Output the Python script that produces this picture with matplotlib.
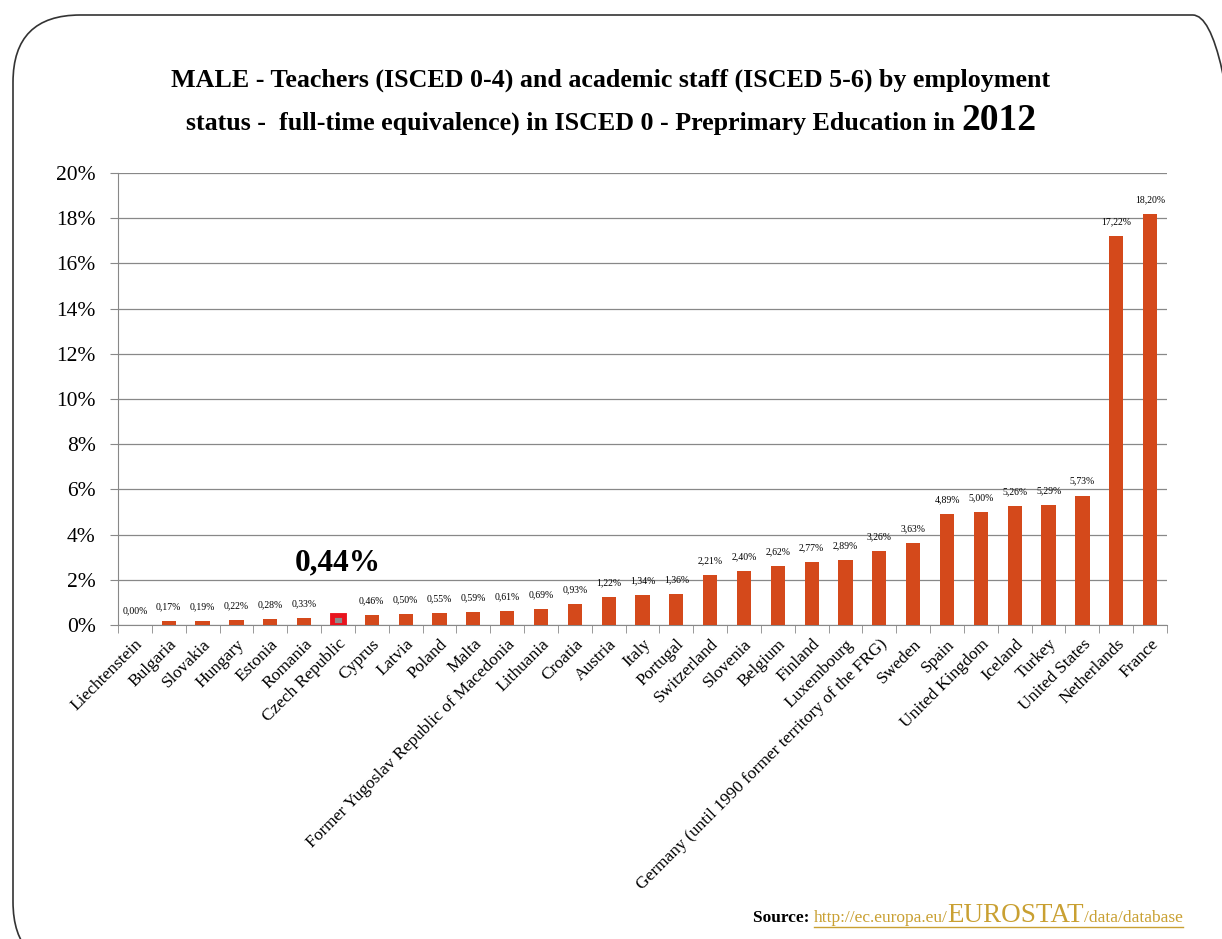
import matplotlib
matplotlib.use("Agg")
import matplotlib.pyplot as plt
from matplotlib.patches import FancyBboxPatch
from matplotlib.offsetbox import TextArea, HPacker, AnchoredOffsetbox
from matplotlib.lines import Line2D
import numpy as np

countries = [
    "Liechtenstein", "Bulgaria", "Slovakia", "Hungary", "Estonia", "Romania",
    "Czech Republic", "Cyprus", "Latvia", "Poland", "Malta",
    "Former Yugoslav Republic of Macedonia", "Lithuania", "Croatia", "Austria",
    "Italy", "Portugal", "Switzerland", "Slovenia", "Belgium", "Finland",
    "Luxembourg", "Germany (until 1990 former territory of the FRG)", "Sweden",
    "Spain", "United Kingdom", "Iceland", "Turkey", "United States",
    "Netherlands", "France",
]
values = [
    0.00, 0.17, 0.19, 0.22, 0.28, 0.33, 0.44, 0.46, 0.50, 0.55, 0.59, 0.61,
    0.69, 0.93, 1.22, 1.34, 1.36, 2.21, 2.40, 2.62, 2.77, 2.89, 3.26, 3.63,
    4.89, 5.00, 5.26, 5.29, 5.73, 17.22, 18.20,
]
highlight = "Czech Republic"

W, H = 1222, 939
fig = plt.figure(figsize=(W / 100, H / 100), dpi=100)
serif = ["Liberation Serif", "DejaVu Serif"]
plt.rcParams["font.family"] = serif

# rounded slide frame
frame = FancyBboxPatch((13 / W, -30 / H), (1260 - 13) / W, (939 - 15 + 30) / H,
                       boxstyle="round,pad=0,rounding_size=0.055",
                       transform=fig.transFigure, fill=False,
                       edgecolor="#333333", linewidth=1.2, mutation_aspect=W / H)
fig.patches.append(frame)

ax = fig.add_axes([118 / W, 1 - 625 / H, (1167 - 118) / W, (625 - 173) / H])
x = np.arange(len(countries))
colors = ["#8c8c8c" if c == highlight else "#d4491b" for c in countries]
bars = ax.bar(x, values, width=0.42, color=colors, zorder=3)
hi = countries.index(highlight)
bars[hi].set_edgecolor("#e8141e")
bars[hi].set_linewidth(3.5)
bars[hi].set_width(0.36)
bars[hi].set_x(hi - 0.18)

for i, v in enumerate(values):
    if countries[i] == highlight:
        continue
    ax.annotate(f"{v:.2f}%".replace(".", ","), (i, v), xytext=(0, 7),
                textcoords="offset points", ha="center", va="bottom",
                fontsize=7)

ax.annotate(f"{values[hi]:.2f}%".replace(".", ","), (hi, values[hi]),
            xytext=(0, 27), textcoords="offset points", ha="center",
            va="bottom", fontsize=22.5, fontweight="bold")

ax.set_xlim(-0.5, len(countries) - 0.5)
ax.set_ylim(0, 20)
ax.set_yticks(np.arange(0, 21, 2))
ax.set_yticklabels([f"{t}%" for t in range(0, 21, 2)], fontsize=15.5)
ax.yaxis.grid(True, color="#888888", linewidth=0.9, zorder=0)
ax.tick_params(axis="y", length=6, color="#888888", pad=10)

ax.set_xticks(x)
ax.set_xticklabels(countries, rotation=45, ha="right", rotation_mode="anchor",
                   fontsize=12.5)
ax.tick_params(axis="x", which="major", length=0, pad=8)
ax.set_xticks(np.arange(-0.5, len(countries)), minor=True)
ax.tick_params(axis="x", which="minor", length=6, color="#888888")

for s in ["top", "right"]:
    ax.spines[s].set_visible(False)
for s in ["left", "bottom"]:
    ax.spines[s].set_color("#888888")

fig.text(0.5, 1 - 80 / H, "MALE - Teachers (ISCED 0-4) and academic staff (ISCED 5-6) by employment",
         ha="center", va="center", fontsize=18.7, fontweight="bold")
line2 = HPacker(children=[
    TextArea("status -  full-time equivalence) in ISCED 0 - Preprimary Education in ",
             textprops=dict(fontsize=18.7, fontweight="bold", family=serif)),
    TextArea("2012", textprops=dict(fontsize=27, fontweight="bold", family=serif)),
], align="baseline", pad=0, sep=0)
ab = AnchoredOffsetbox(loc="center", child=line2, pad=0, frameon=False,
                       bbox_to_anchor=(0.5, 1 - 120 / H),
                       bbox_transform=fig.transFigure, borderpad=0)
fig.add_artist(ab)

gold = "#c9a032"
src_parts = [
    TextArea("Source: ", textprops=dict(fontsize=12.5, fontweight="bold", family=serif)),
    TextArea("http://ec.europa.eu/", textprops=dict(fontsize=12.5, color=gold, family=serif)),
    TextArea("EUROSTAT", textprops=dict(fontsize=19.5, color=gold, family=serif)),
    TextArea("/data/database", textprops=dict(fontsize=12.5, color=gold, family=serif)),
]
src = HPacker(children=src_parts, align="baseline", pad=0, sep=0)
ab2 = AnchoredOffsetbox(loc="lower right", child=src, pad=0, frameon=False,
                        bbox_to_anchor=(1183 / W, 1 - 928 / H),
                        bbox_transform=fig.transFigure, borderpad=0)
fig.add_artist(ab2)

# underline the link part of the source line
fig.canvas.draw()
r = fig.canvas.get_renderer()
x0 = src_parts[1].get_window_extent(r).x0 / W
x1 = src_parts[3].get_window_extent(r).x1 / W
fig.add_artist(Line2D([x0, x1], [1 - 927 / H, 1 - 927 / H],
                      transform=fig.transFigure, color=gold, linewidth=1))

fig.savefig("out.png", dpi=100)
